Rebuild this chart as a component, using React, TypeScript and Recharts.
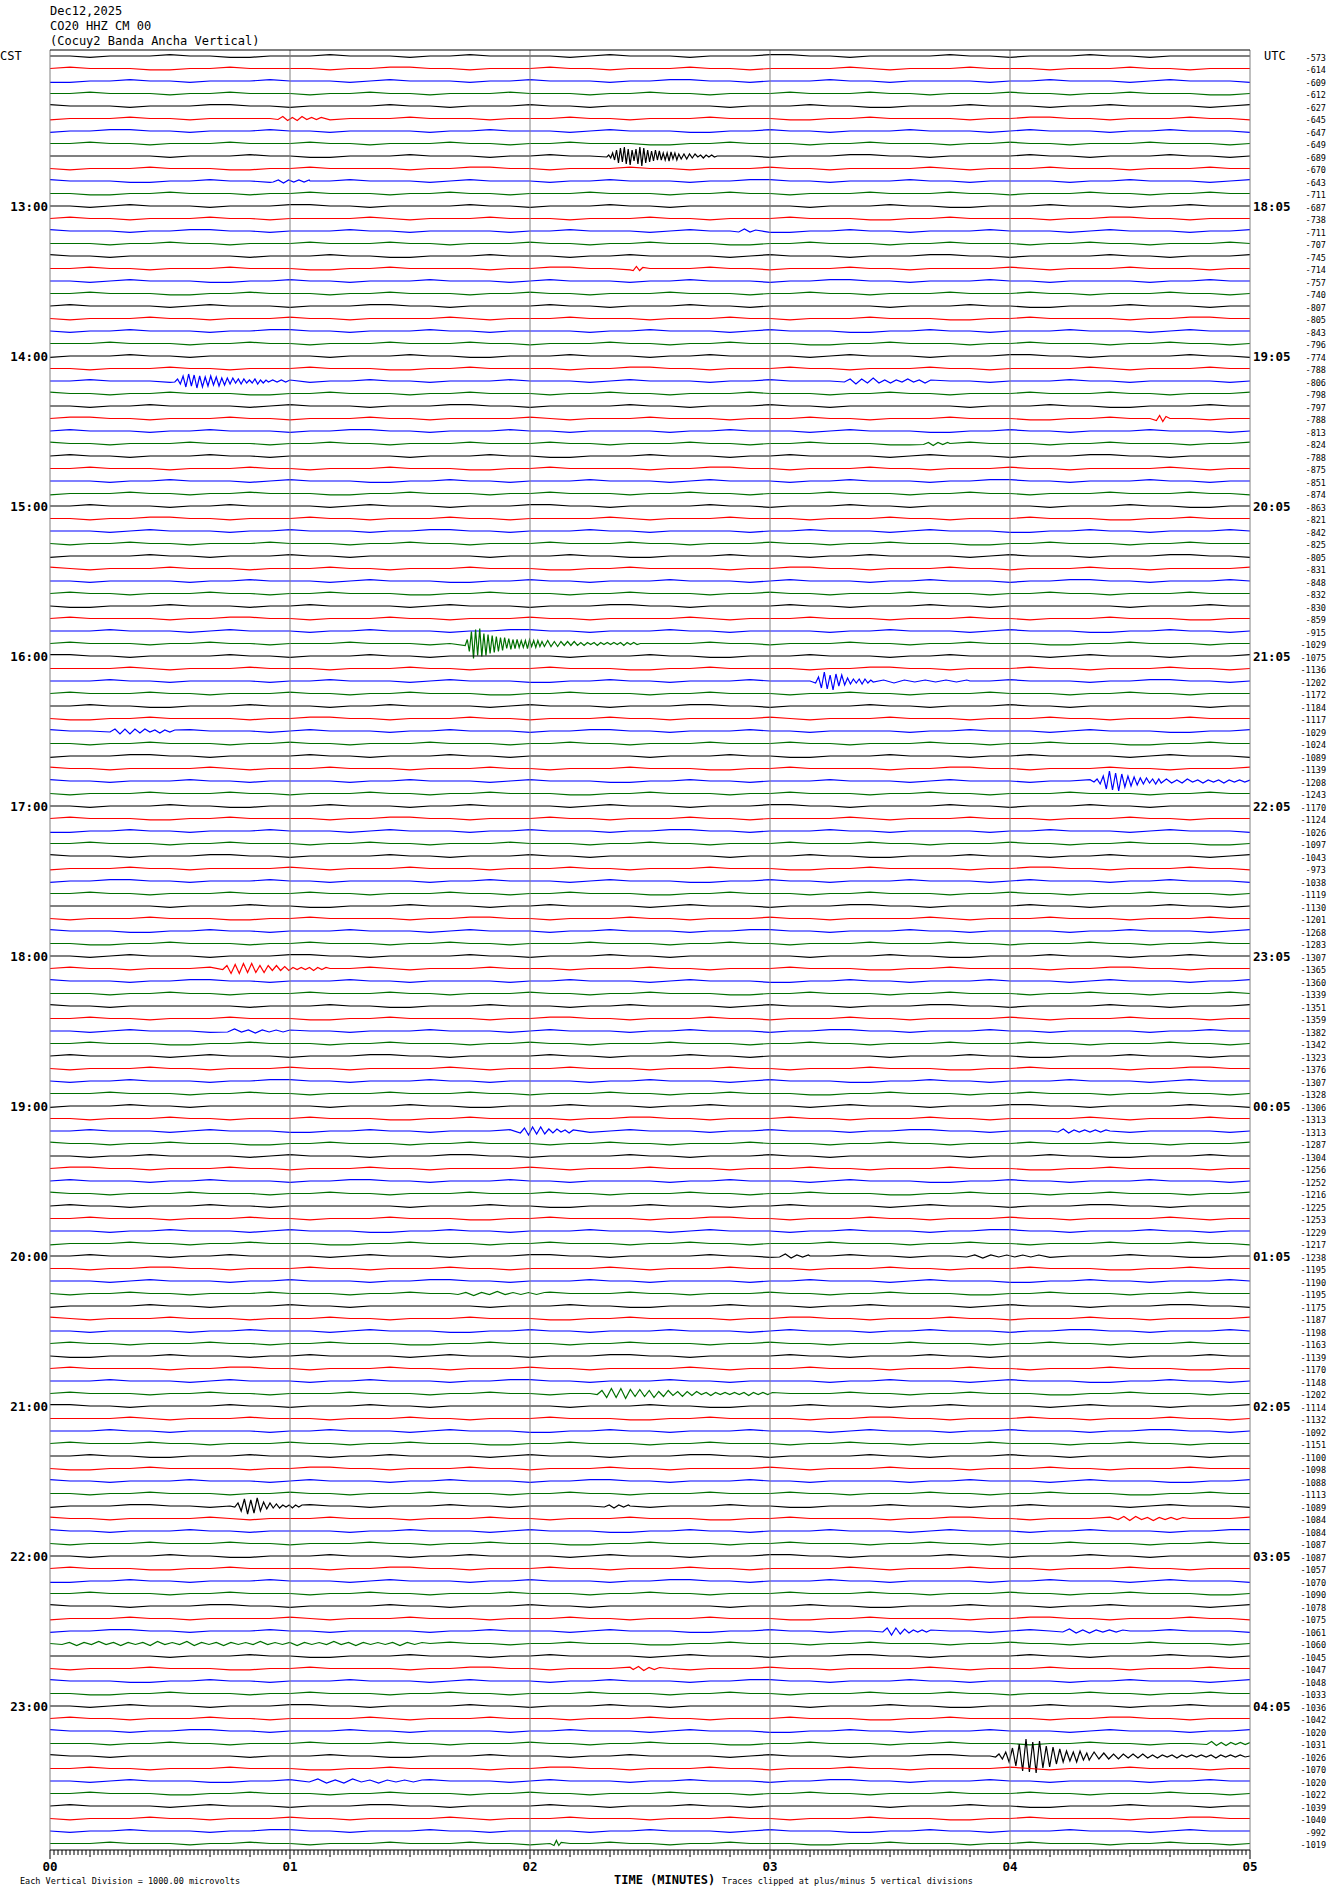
import React from 'react';
import { LineChart, Line, XAxis, YAxis, ReferenceLine } from 'recharts';

// one value per 5-minute trace, printed at the right edge
const TRACE_COUNTS = [
  -573, -614, -609, -612, -627, -645, -647, -649, -689, -670, -643, -711,
  -687, -738, -711, -707, -745, -714, -757, -740, -807, -805, -843, -796,
  -774, -788, -806, -798, -797, -788, -813, -824, -788, -875, -851, -874,
  -863, -821, -842, -825, -805, -831, -848, -832, -830, -859, -915, -1029,
  -1075, -1136, -1202, -1172, -1184, -1117, -1029, -1024, -1089, -1139, -1208, -1243,
  -1170, -1124, -1026, -1097, -1043, -973, -1038, -1119, -1130, -1201, -1268, -1283,
  -1307, -1365, -1360, -1339, -1351, -1359, -1382, -1342, -1323, -1376, -1307, -1328,
  -1306, -1313, -1313, -1287, -1304, -1256, -1252, -1216, -1225, -1253, -1229, -1217,
  -1238, -1195, -1190, -1195, -1175, -1187, -1198, -1163, -1139, -1170, -1148, -1202,
  -1114, -1132, -1092, -1151, -1100, -1098, -1088, -1113, -1089, -1084, -1084, -1087,
  -1087, -1057, -1070, -1090, -1078, -1075, -1061, -1060, -1045, -1047, -1048, -1033,
  -1036, -1042, -1020, -1031, -1026, -1070, -1020, -1022, -1039, -1040, -992, -1019,
];

const CST_LABELS = ['CST', '13:00', '14:00', '15:00', '16:00', '17:00', '18:00', '19:00', '20:00', '21:00', '22:00', '23:00'];
const UTC_LABELS = ['UTC', '18:05', '19:05', '20:05', '21:05', '22:05', '23:05', '00:05', '01:05', '02:05', '03:05', '04:05'];
const MINUTE_LABELS = ['00', '01', '02', '03', '04', '05'];
const TRACE_COLORS = ['#000000', '#ff0000', '#0000ff', '#007000'];

// background wiggle of quiet traces (pixels), one value every 5 s
const WIGGLE_BLACK = [0, 0, 1, 0, 0, 0, -1, 0, 0, 1, 1, 0, 0, 0, -1, 0, 0, 0, 1, 0, 0, -1, 0, 0, 0, 0, 1, 0, -1, 0, 0, 0, 1, 0, 0, 0, -1, -1, 0, 0, 1, 0, 0, 0, 0, -1, 0, 0, 1, 0, 0, 0, -1, 0, 0, 1, 0, 0, 0, 0];
const WIGGLE_RED = [0, -1, 0, 0, 1, 0, 0, 0, -1, 0, 0, 0, 1, 1, 0, 0, -1, 0, 0, 0, 0, 1, 0, 0, -1, -1, 0, 0, 1, 0, 0, 0, -1, 0, 0, 1, 0, 0, 0, -1, 0, 0, 1, 0, 0, 0, 0, -1, 0, 1, 0, 0, 0, -1, 0, 0, 0, 1, 0, 0];
const WIGGLE_BLUE = [0, 1, 0, 0, -1, 0, 0, 0, 1, 0, -1, 0, 0, 0, 1, 1, 0, 0, -1, 0, 0, 1, 0, 0, 0, -1, 0, 0, 0, 1, 0, -1, 0, 0, 0, 1, 0, 0, -1, 0, 0, 0, 1, 0, 0, -1, -1, 0, 0, 1, 0, 0, 0, -1, 0, 0, 1, 0, 0, 0];
const WIGGLE_GREEN = [0, 0, -1, 0, 0, 1, 0, 0, 0, -1, 0, 0, 1, 0, 0, -1, 0, 0, 0, 1, 1, 0, 0, -1, 0, 0, 0, 1, 0, 0, -1, 0, 0, 0, 1, 0, 0, -1, 0, 0, 1, 0, 0, 0, -1, 0, 0, 0, 1, 0, 0, -1, 0, 0, 1, 0, 0, 0, -1, 0];
const WIGGLES = [WIGGLE_BLACK, WIGGLE_RED, WIGGLE_BLUE, WIGGLE_GREEN];

// events: trace row, start/end minute, swing in pixels
const EVENTS = [
  { trace: 5, start: 0.95, end: 1.13, amps: [1, -2, 2, -1, 2, -2, 1, -1, 1, -1] },
  { trace: 8, start: 2.32, end: 2.62, amps: [1, -1, 2, -3, 4, -6, 7, -8, 6, -9, 8, -7, 9, -6, 5, -7, 8, -9, 10, -8, 7, -6, 6, -5, 5, -6, 4, -5, 4, -3, 4, -3, 5, -4, 3, -3, 4, -2] },
  { trace: 8, start: 2.63, end: 2.78, amps: [3, -2, 3, -2, 2, -2, 1, -1, 2, -1, 1, -1, 1, 0] },
  { trace: 10, start: 0.93, end: 1.08, amps: [1, -1, 2, -1, 1, -1, 1, -1] },
  { trace: 14, start: 2.87, end: 2.94, amps: [1, -2, 1, -1] },
  { trace: 17, start: 2.43, end: 2.47, amps: [2, -2, 2, -1] },
  { trace: 26, start: 0.52, end: 0.9, amps: [1, -2, 3, -5, 6, -7, 5, -6, 7, -5, 6, -4, 5, -5, 4, -4, 5, -3, 4, -3, 3, -3, 2, -2, 3, -2, 2, -1, 2, -2, 3, -1, 2, -1] },
  { trace: 26, start: 0.91, end: 1.0, amps: [1, -1, 1, -1, 1, -1] },
  { trace: 26, start: 3.31, end: 3.67, amps: [1, -2, 3, -2, 2, -3, 2, -1, 2, -1, 1, -2, 1, -1, 2, -1] },
  { trace: 29, start: 4.61, end: 4.65, amps: [2, -3, 3, -2] },
  { trace: 31, start: 3.64, end: 3.74, amps: [1, -1, 2, -1, 1, -1] },
  { trace: 47, start: 1.73, end: 2.05, amps: [2, -4, 8, -12, 15, -14, 12, -15, 13, -10, 12, -9, 10, -8, 9, -7, 8, -6, 7, -6, 5, -5, 6, -4, 5, -4, 4, -3, 4, -3, 5, -4, 3, -3, 4, -3, 3, -2] },
  { trace: 47, start: 2.06, end: 2.46, amps: [3, -3, 3, -2, 3, -2, 2, -2, 2, -2, 2, -1, 2, -1, 1, -1, 2, -1, 1, -1, 1, -1, 1, -1, 2, -1, 1, -1, 1, 0] },
  { trace: 50, start: 3.19, end: 3.42, amps: [2, -4, 7, -9, 8, -6, 9, -7, 5, -6, 4, -3, 3, -2, 2, -2, 3, -2, 2, -1] },
  { trace: 50, start: 3.43, end: 3.82, amps: [1, -1, 2, -1, 1, -1, 1, -1, 1, -1] },
  { trace: 54, start: 0.25, end: 0.52, amps: [1, -2, 3, -2, 3, -2, 2, -2, 1, -1, 2, -1, 1, -1] },
  { trace: 58, start: 4.35, end: 4.62, amps: [1, -2, 3, -5, 8, -10, 9, -8, 10, -7, 6, -5, 5, -4, 4, -3, 3, -3, 2, -2, 3, -2] },
  { trace: 58, start: 4.63, end: 5.0, amps: [2, -2, 2, -1, 2, -2, 1, -1, 2, -1, 1, -1, 2, -1, 1, -1, 1, -1] },
  { trace: 73, start: 0.72, end: 1.15, amps: [1, -3, 5, -4, 5, -5, 4, -5, 4, -3, 4, -3, 2, -3, 2, -2, 2, -1, 1, -1, 1, -1, 2, -1, 1, -1] },
  { trace: 78, start: 0.74, end: 1.0, amps: [1, -2, 1, -1, 2, -1, 1, -1, 1, -1] },
  { trace: 86, start: 1.96, end: 2.18, amps: [2, -3, 4, -4, 3, -4, 3, -2, 2, -2, 1, -1, 2, -1] },
  { trace: 86, start: 4.2, end: 4.4, amps: [1, -2, 2, -1, 1, -1, 1, -1, 1, -1] },
  { trace: 96, start: 3.04, end: 3.16, amps: [1, -2, 2, -1, 1, -1] },
  { trace: 96, start: 3.82, end: 4.12, amps: [1, -1, 2, -1, 1, -1, 1, -1, 1, -1] },
  { trace: 99, start: 1.7, end: 2.06, amps: [1, -1, 2, -1, 1, -2, 1, -1, 1, -1, 1, -1] },
  { trace: 107, start: 2.28, end: 3.01, amps: [1, -3, 4, -5, 4, -5, 5, -4, 3, -4, 3, -3, 4, -2, 3, -3, 2, -2, 3, -2, 2, -2, 1, -1, 2, -1, 1, -1, 1, -1, 1, -1, 2, -1, 1, -1, 1, -1] },
  { trace: 116, start: 0.77, end: 1.05, amps: [1, -3, 5, -7, 8, -6, 7, -8, 5, -4, 3, -3, 2, -2, 2, -1, 1, -1, 2, -1, 1, -1] },
  { trace: 116, start: 2.31, end: 2.41, amps: [1, -1, 2, -1, 1, -1] },
  { trace: 117, start: 4.45, end: 4.72, amps: [1, -2, 2, -2, 1, -1, 2, -1, 1, -1, 1, -1] },
  { trace: 126, start: 3.47, end: 3.67, amps: [1, -3, 4, -3, 3, -2, 2, -1, 1, -1, 1, -1] },
  { trace: 126, start: 4.22, end: 4.47, amps: [1, -2, 2, -1, 2, -1, 1, -1, 1, -1] },
  { trace: 127, start: 0.05, end: 1.55, amps: [1, -1, 2, -1, 1, -2, 1, -1, 2, -1, 1, -1, 2, -2, 1, -1, 1, -2, 2, -1, 1, -1, 2, -1, 1, -1, 1, -2, 1, -1, 1, -1, 2, -1, 1, -1, 1, -2, 1, -1, 2, -1, 1, -1, 1, -1, 2, -1, 1, -1] },
  { trace: 129, start: 2.43, end: 2.54, amps: [1, -2, 2, -1, 1, -1] },
  { trace: 135, start: 4.82, end: 5.0, amps: [1, -2, 2, -1, 2, -1, 1, -1, 1, -1] },
  { trace: 136, start: 3.94, end: 4.32, amps: [1, -2, 3, -4, 6, -8, 10, -12, 15, -17, 16, -14, 17, -15, 12, -10, 11, -9, 8, -7, 6, -5, 5, -4, 6, -5, 4, -3] },
  { trace: 136, start: 4.33, end: 5.0, amps: [4, -4, 3, -3, 3, -2, 3, -2, 2, -2, 2, -2, 2, -1, 2, -1, 1, -1, 2, -1, 1, -1, 1, -1, 1, -1, 2, -1, 1, -1, 1, -1, 1, 0] },
  { trace: 138, start: 1.08, end: 1.55, amps: [1, -2, 2, -1, 2, -2, 1, -1, 2, -1, 1, -1, 1, -1] },
  { trace: 143, start: 2.1, end: 2.13, amps: [2, -3, 2, -1] },
];

const PX = 1 / 12.5; // one trace row is 12.5 px tall
const WIGGLE_SCALE = 1.3;
const MONO = '"DejaVu Sans Mono", monospace';

function buildTrace(i: number) {
  const pat = WIGGLES[i % 4];
  const n = pat.length;
  const off = (i * 7) % n;
  const evs = EVENTS.filter((e) => e.trace === i);
  const pts: { t: number; v: number }[] = [];
  for (let k = 0; k <= n; k++) {
    const t = (k * 5) / n;
    if (evs.some((e) => t >= e.start && t <= e.end)) continue;
    pts.push({ t, v: i + pat[(k + off) % n] * WIGGLE_SCALE * PX });
  }
  evs.forEach((e) => {
    e.amps.forEach((a, j) => {
      pts.push({ t: e.start + (j * (e.end - e.start)) / (e.amps.length - 1), v: i + a * PX });
    });
  });
  return pts.sort((a, b) => a.t - b.t);
}

const traces = TRACE_COUNTS.map((_, i) => buildTrace(i));
const rowTicks = TRACE_COUNTS.map((_, i) => i);
const hourTicks = CST_LABELS.map((_, h) => h * 12);
const secondTicks = Array.from({ length: 301 }, (_, s) => s / 60);
const Y_DOMAIN = [-0.48, 143.52];

const CstTick = (props: any) => {
  const idx = props.payload.value;
  const label = CST_LABELS[idx / 12];
  if (idx === 0)
    return (
      <text x={0} y={props.y} dy={4} fontSize={12} fontFamily={MONO}>
        {label}
      </text>
    );
  return (
    <text x={48} y={props.y} dy={5} textAnchor="end" fontSize={12.5} fontWeight="bold" fontFamily={MONO}>
      {label}
    </text>
  );
};

const UtcTick = (props: any) => {
  const idx = props.payload.value;
  const label = UTC_LABELS[idx / 12];
  if (idx === 0)
    return (
      <text x={1264} y={props.y} dy={4} fontSize={12} fontFamily={MONO}>
        {label}
      </text>
    );
  return (
    <text x={1253} y={props.y} dy={5} fontSize={12.5} fontWeight="bold" fontFamily={MONO}>
      {label}
    </text>
  );
};

const CountTick = (props: any) => (
  <text x={1326} y={props.y} dy={4.5} textAnchor="end" fontSize={8.5} fontFamily={MONO}>
    {TRACE_COUNTS[props.payload.value]}
  </text>
);

const MinuteTick = (props: any) => {
  const v = props.payload.value;
  const sec = Math.round(v * 60);
  const len = sec % 60 === 0 ? 9 : sec % 10 === 0 ? 7 : 5;
  return (
    <g>
      <line x1={props.x} x2={props.x} y1={1850} y2={1850 + len} stroke="#000" strokeWidth={1} />
      {sec % 60 === 0 && (
        <text x={props.x} y={1871} textAnchor="middle" fontSize={12.5} fontWeight="bold" fontFamily={MONO}>
          {MINUTE_LABELS[sec / 60]}
        </text>
      )}
    </g>
  );
};

export default function App() {
  return (
    <div style={{ position: 'absolute', left: 0, top: 0, width: 1330, height: 1894, background: '#fff' }}>
      <div style={{ position: 'absolute', left: 50, top: 4, fontFamily: MONO, fontSize: 12, lineHeight: '15px' }}>
        <div>Dec12,2025</div>
        <div>CO20 HHZ CM 00</div>
        <div>(Cocuy2 Banda Ancha Vertical)</div>
      </div>
      <LineChart width={1330} height={1894} margin={{ top: 50, right: 0, bottom: 0, left: 0 }}>
        <XAxis
          type="number"
          dataKey="t"
          domain={[0, 5]}
          ticks={secondTicks}
          interval={0}
          tick={<MinuteTick />}
          tickLine={false}
          axisLine={{ stroke: '#000' }}
          height={44}
          allowDataOverflow
        />
        <YAxis
          yAxisId="left"
          orientation="left"
          reversed
          type="number"
          domain={Y_DOMAIN}
          ticks={hourTicks}
          interval={0}
          tick={<CstTick />}
          axisLine={false}
          tickLine={false}
          width={50}
          allowDataOverflow
        />
        <YAxis
          yAxisId="utc"
          orientation="right"
          reversed
          type="number"
          domain={Y_DOMAIN}
          ticks={hourTicks}
          interval={0}
          tick={<UtcTick />}
          axisLine={false}
          tickLine={false}
          width={45}
          allowDataOverflow
        />
        <YAxis
          yAxisId="counts"
          orientation="right"
          reversed
          type="number"
          domain={Y_DOMAIN}
          ticks={rowTicks}
          interval={0}
          tick={<CountTick />}
          axisLine={false}
          tickLine={false}
          width={35}
          allowDataOverflow
        />
        {traces.map((pts, i) => (
          <Line
            key={i}
            yAxisId="left"
            data={pts}
            dataKey="v"
            type="linear"
            stroke={TRACE_COLORS[i % 4]}
            strokeWidth={1.2}
            dot={false}
            activeDot={false}
            isAnimationActive={false}
          />
        ))}
        {[0, 1, 2, 3, 4, 5].map((m) => (
          <ReferenceLine key={m} yAxisId="left" x={m} stroke="#808080" strokeWidth={1} />
        ))}
        <ReferenceLine yAxisId="left" y={-0.48} stroke="#000" strokeWidth={1} />
      </LineChart>
      <div style={{ position: 'absolute', left: 20, top: 1876, fontFamily: MONO, fontSize: 8.5, whiteSpace: 'nowrap' }}>
        Each Vertical Division = 1000.00 microvolts
      </div>
      <div style={{ position: 'absolute', left: 614, top: 1873, fontFamily: MONO, fontSize: 12, fontWeight: 'bold', whiteSpace: 'nowrap' }}>
        TIME (MINUTES)
      </div>
      <div style={{ position: 'absolute', left: 722, top: 1876, fontFamily: MONO, fontSize: 8.5, whiteSpace: 'nowrap' }}>
        Traces clipped at plus/minus 5 vertical divisions
      </div>
    </div>
  );
}
